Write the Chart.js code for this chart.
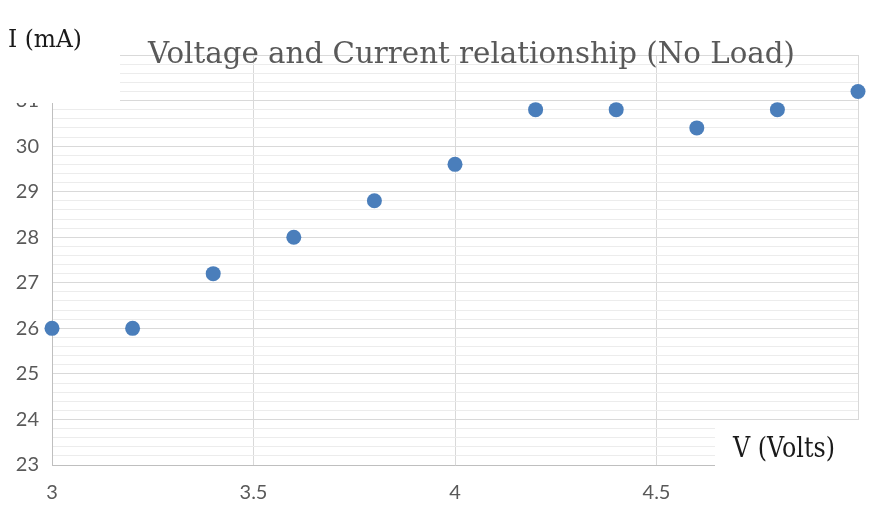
<!DOCTYPE html>
<html><head><meta charset="utf-8">
<script src="https://cdn.jsdelivr.net/npm/chart.js@4/dist/chart.umd.min.js"></script>
<style>html,body{margin:0;padding:0;background:#fff}canvas{display:block}</style>
</head><body>
<canvas id="c" width="876" height="523"></canvas>
<script>
const voltage = [3.0, 3.2, 3.4, 3.6, 3.8, 4.0, 4.2, 4.4, 4.6, 4.8, 5.0];
const current = [26, 26, 27.2, 28, 28.8, 29.6, 30.8, 30.8, 30.4, 30.8, 31.2];
const chartTitle = 'Voltage and Current relationship (No Load)';
const yTitle = 'I (mA)';
const xTitle = 'V (Volts)';

function fitText(ctx, text, x0, x1, baseline, size, family, color) {
  ctx.save();
  ctx.font = size + 'px ' + family;
  const w = ctx.measureText(text).width;
  const sx = (x1 - x0) / w;
  ctx.translate(x0, baseline);
  ctx.scale(sx, 1);
  ctx.fillStyle = color;
  ctx.textAlign = 'left';
  ctx.textBaseline = 'alphabetic';
  ctx.fillText(text, 0, 0);
  ctx.restore();
}

const overlay = {
  id: 'overlay',
  afterDraw(chart) {
    const ctx = chart.ctx;
    ctx.save();
    ctx.fillStyle = '#ffffff';
    ctx.fillRect(0, 0, 120, 103);
    ctx.fillRect(715, 420, 161, 103);
    ctx.restore();
    fitText(ctx, chartTitle, 148, 795, 63, 29, '"DejaVu Serif", serif', '#595959');
    fitText(ctx, yTitle, 8, 82, 47, 25, '"DejaVu Serif", serif', '#1a1a1a');
    fitText(ctx, xTitle, 733, 835, 457, 27, '"DejaVu Serif", serif', '#1a1a1a');
  }
};

const isInt = v => Math.abs(v - Math.round(v)) < 1e-6;

new Chart(document.getElementById('c'), {
  type: 'scatter',
  data: {
    datasets: [{
      data: voltage.map((v, i) => ({x: v, y: current[i]})),
      backgroundColor: '#4a7ebb',
      borderColor: '#4a7ebb',
      pointRadius: 7.5,
      pointHoverRadius: 7.5,
      borderWidth: 0,
      clip: false
    }]
  },
  options: {
    responsive: false,
    animation: false,
    events: [],
    layout: {padding: {top: 55, right: 18, left: 0, bottom: 0}},
    plugins: {legend: {display: false}, title: {display: false}, tooltip: {enabled: false}},
    scales: {
      x: {
        type: 'linear', min: 3, max: 5,
        ticks: {stepSize: 0.5, autoSkip: false, color: '#595959', padding: 16,
          font: {family: 'Lato', size: 20},
          callback: v => String(v)},
        grid: {color: '#d9d9d9', drawTicks: false},
        border: {display: true, color: '#bfbfbf'},
        afterFit: s => { s.height = 58; s.paddingLeft = 0; s.paddingRight = 0; }
      },
      y: {
        type: 'linear', min: 23, max: 32,
        ticks: {stepSize: 0.2, autoSkip: false, color: '#595959', padding: 13,
          font: {family: 'Lato', size: 20},
          callback: v => isInt(v) ? String(Math.round(v)) : ''},
        grid: {drawTicks: false, color: c => isInt(c.tick.value) ? '#d9d9d9' : '#ececec'},
        border: {display: true, color: '#bfbfbf'},
        afterFit: s => { s.width = 52; s.paddingTop = 0; s.paddingBottom = 0; }
      }
    }
  },
  plugins: [overlay]
});
</script>
</body></html>
